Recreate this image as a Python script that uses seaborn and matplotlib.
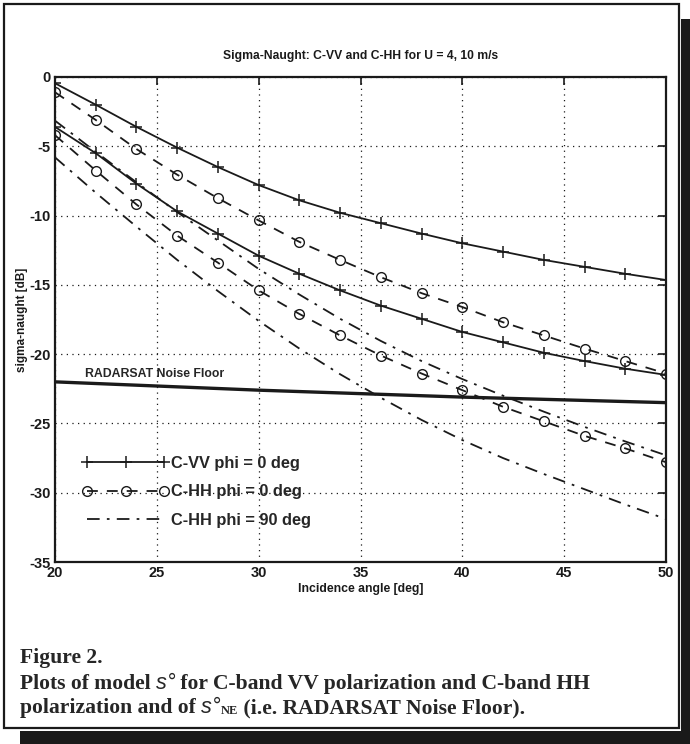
import numpy as np
import pandas as pd
import matplotlib
matplotlib.use("Agg")
import matplotlib.pyplot as plt
import seaborn as sns
from matplotlib.patches import Rectangle

# ---------------- data ----------------
angle = [20, 22, 24, 26, 28, 30, 32, 34, 36, 38, 40, 42, 44, 46, 48, 50]
vv_u10 = [-0.45, -2.0, -3.6, -5.1, -6.5, -7.8, -8.9, -9.8, -10.55, -11.3, -12.0, -12.6, -13.2, -13.7, -14.2, -14.65]
vv_u4 = [-3.6, -5.5, -7.7, -9.7, -11.3, -12.9, -14.2, -15.4, -16.5, -17.45, -18.4, -19.15, -19.9, -20.5, -21.05, -21.5]
hh0_u10 = [-1.1, -3.1, -5.2, -7.05, -8.75, -10.35, -11.9, -13.2, -14.45, -15.6, -16.6, -17.7, -18.65, -19.6, -20.5, -21.4]
hh0_u4 = [-4.2, -6.75, -9.2, -11.45, -13.4, -15.4, -17.1, -18.65, -20.1, -21.4, -22.6, -23.8, -24.85, -25.9, -26.8, -27.8]
hh90_u10 = [-3.15, -5.4, -7.6, -9.75, -11.8, -13.85, -15.7, -17.45, -19.05, -20.5, -21.8, -23.0, -24.15, -25.25, -26.3, -27.3]
hh90_u4 = [-5.8, -8.35, -10.8, -13.2, -15.45, -17.6, -19.6, -21.45, -23.15, -24.75, -26.2, -27.5, -28.65, -29.75, -30.85, -31.9]
nf_angle = [20, 25, 30, 35, 40, 45, 50]
noise_floor = [-22.0, -22.3, -22.6, -22.85, -23.1, -23.3, -23.5]

xticks = [20, 25, 30, 35, 40, 45, 50]
yticks = [0, -5, -10, -15, -20, -25, -30, -35]

title = "Sigma-Naught: C-VV and C-HH for U = 4, 10 m/s"
xlabel = "Incidence angle [deg]"
ylabel = "sigma-naught [dB]"
labels = ["C-VV phi = 0 deg", "C-HH phi = 0 deg", "C-HH phi = 90 deg"]
nf_label = "RADARSAT Noise Floor"

# ---------------- figure ----------------
sns.set_theme(style="white")
plt.rcParams['font.family'] = ['Liberation Sans', 'DejaVu Sans']

W, H = 690, 744
fig = plt.figure(figsize=(W / 100, H / 100), dpi=100)
fig.patch.set_facecolor('white')

# frame & drop shadow
fig.patches.append(Rectangle((4 / W, 1 - 728 / H), (679 - 4) / W, (728 - 4) / H,
                             transform=fig.transFigure, fill=False, lw=1.6, ec='k'))
fig.patches.append(Rectangle((681 / W, 0), (W - 681) / W, (H - 19) / H,
                             transform=fig.transFigure, fc='k', ec='none'))
fig.patches.append(Rectangle((20 / W, 0), (W - 20) / W, (H - 731) / H,
                             transform=fig.transFigure, fc='k', ec='none'))

L, R, T, B = 55, 666, 77, 562
ax = fig.add_axes([L / W, 1 - B / H, (R - L) / W, (B - T) / H])
ax.set_facecolor('white')

lw = 1.3
dash = (0, (6, 5))
dashdot = (0, (7, 4, 1.5, 4))
plus_kw = dict(marker='+', markersize=9, markeredgewidth=1.1, markeredgecolor='k')
circ_kw = dict(marker='o', markersize=7, markerfacecolor='none', markeredgecolor='k',
               markeredgewidth=1.0)

sns.lineplot(x=angle, y=vv_u10, ax=ax, color='k', lw=lw, label=labels[0], **plus_kw)
sns.lineplot(x=angle, y=vv_u4, ax=ax, color='k', lw=lw, **plus_kw)
sns.lineplot(x=angle, y=hh0_u10, ax=ax, color='k', lw=lw, linestyle=dash,
             label=labels[1], **circ_kw)
sns.lineplot(x=angle, y=hh0_u4, ax=ax, color='k', lw=lw, linestyle=dash, **circ_kw)
sns.lineplot(x=angle, y=hh90_u10, ax=ax, color='k', lw=lw, linestyle=dashdot,
             label=labels[2])
sns.lineplot(x=angle, y=hh90_u4, ax=ax, color='k', lw=lw, linestyle=dashdot)
sns.lineplot(x=nf_angle, y=noise_floor, ax=ax, color='k', lw=2.4)

ax.text(21.45, -21.45, nf_label, fontsize=8.8, fontweight='bold', va='center', ha='left')

ax.set_xlim(20, 50)
ax.set_ylim(-35, 0)
ax.set_xticks(xticks)
ax.set_yticks(yticks)
ax.set_xticklabels([str(v) for v in xticks])
ax.set_yticklabels([str(v) for v in yticks])
ax.grid(True, color='k', linestyle=(0, (1, 3.5)), lw=0.9)
ax.tick_params(direction='in', length=6, width=1.2, top=True, right=True,
               labelsize=10.5, pad=3, colors='k')
for lab in ax.get_xticklabels() + ax.get_yticklabels():
    lab.set_fontweight('bold')
for s in ax.spines.values():
    s.set_visible(True)
    s.set_color('k')
    s.set_linewidth(1.6)

ax.set_title(title, fontsize=8.7, fontweight='bold', pad=13, color='k')
ax.set_xlabel(xlabel, fontsize=8.8, fontweight='bold', labelpad=2, color='k')
ax.set_ylabel(ylabel, fontsize=8.5, fontweight='bold', labelpad=1, color='k')

leg = ax.legend(loc='upper left', bbox_to_anchor=(0.0445, 0.219), frameon=False,
                numpoints=3, handlelength=5.3, handletextpad=0.12, labelspacing=0.83,
                borderpad=0, borderaxespad=0,
                prop={'family': 'Liberation Sans', 'size': 11.8, 'weight': 'bold'})

# ---------------- caption ----------------
renderer = fig.canvas.get_renderer()


def draw_run(x_px, y_px, segments):
    x = x_px
    for seg in segments:
        txt, kw = seg
        dy = kw.pop('dy', 0)
        t = fig.text(x / W, 1 - (y_px + dy) / H, txt, va='baseline', ha='left', **kw)
        x += t.get_window_extent(renderer).width


fs = 15.6
serif = dict(family=['Liberation Serif', 'DejaVu Serif'], fontweight='bold', fontsize=fs)
sym = dict(family=['Liberation Sans', 'DejaVu Sans'], style='italic', fontsize=fs)
sub = dict(family=['Liberation Serif', 'DejaVu Serif'], fontweight='bold', fontsize=9)

draw_run(20, 663, [("Figure 2.", dict(serif))])
draw_run(20, 689, [("Plots of model ", dict(serif)), ("s", dict(sym)), ("\u00b0", dict(sym)),
                   (" for C-band VV polarization and C-band HH", dict(serif))])
draw_run(20, 713, [("polarization and of ", dict(serif)), ("s", dict(sym)), ("\u00b0", dict(sym)),
                   ("NE", dict(sub, dy=1)), (" (i.e. RADARSAT Noise Floor).", dict(serif))])

fig.savefig("out.png", dpi=100)
